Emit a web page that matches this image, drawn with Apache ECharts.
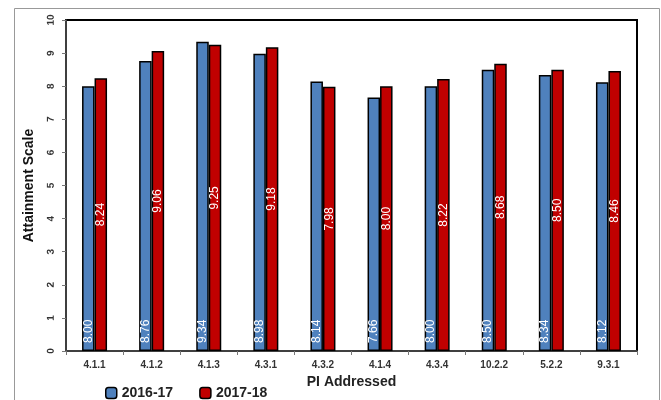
<!DOCTYPE html>
<html>
<head>
<meta charset="utf-8">
<script src="https://cdn.jsdelivr.net/npm/echarts@6/dist/echarts.min.js"></script>
<style>
  html, body { margin: 0; padding: 0; background: #fff; }
  #chart { width: 661px; height: 400px; }
</style>
</head>
<body>
<div id="chart"></div>
<script>
// PI codes on the x axis
var categories = ['4.1.1', '4.1.2', '4.1.3', '4.3.1', '4.3.2', '4.1.4', '4.3.4', '10.2.2', '5.2.2', '9.3.1'];
var year1 = [8.00, 8.76, 9.34, 8.98, 8.14, 7.66, 8.00, 8.50, 8.34, 8.12];
var year2 = [8.24, 9.06, 9.25, 9.18, 7.98, 8.00, 8.22, 8.68, 8.50, 8.46];
var yTicks = [0, 1, 2, 3, 4, 5, 6, 7, 8, 9, 10];

var chart = echarts.init(document.getElementById('chart'));

var labelFont = '"Liberation Sans Narrow", "Liberation Sans", sans-serif';

var option = {
    animation: false,
    graphic: [{
        type: 'rect',
        shape: { x: 14.5, y: 8.5, width: 645, height: 420 },
        style: { fill: 'none', stroke: '#999', lineWidth: 1 },
        z: -1
    }],
    legend: {
        top: 386,
        left: 105,
        padding: 0,
        itemWidth: 11,
        itemHeight: 11,
        itemGap: 26,
        textStyle: { fontSize: 14, fontWeight: 'bold', color: '#222', fontFamily: 'Liberation Sans' },
        data: [
            { name: '2016-17', itemStyle: { borderColor: '#000', borderWidth: 1.5 } },
            { name: '2017-18', itemStyle: { borderColor: '#000', borderWidth: 1.5 } }
        ]
    },
    grid: {
        left: 66,
        right: 24,
        top: 20,
        bottom: 49,
        show: true,
        borderColor: '#000',
        borderWidth: 2
    },
    xAxis: {
        type: 'category',
        data: categories,
        name: 'PI Addressed',
        nameLocation: 'middle',
        nameGap: 23,
        nameTextStyle: { fontSize: 14, fontWeight: 'bold', color: '#222', fontFamily: 'Liberation Sans' },
        axisLine: { lineStyle: { color: '#555', width: 1.5 } },
        axisTick: { show: true, length: 4, lineStyle: { color: '#777' } },
        axisLabel: { fontSize: 10, fontWeight: 'bold', color: '#333', margin: 9, fontFamily: 'Liberation Sans' }
    },
    yAxis: {
        type: 'value',
        min: yTicks[0],
        max: yTicks[yTicks.length - 1],
        interval: 1,
        name: 'Attainment Scale',
        nameLocation: 'middle',
        nameGap: 30,
        nameTextStyle: { fontSize: 14, fontWeight: 'bold', color: '#111', fontFamily: 'Liberation Sans' },
        axisLine: { show: true, lineStyle: { color: '#555', width: 1.5 } },
        axisTick: { show: true, length: 4, lineStyle: { color: '#777' } },
        splitLine: { show: false },
        axisLabel: {
            rotate: 89.9,
            align: 'center',
            verticalAlign: 'bottom',
            fontSize: 10,
            fontWeight: 'bold',
            color: '#333',
            margin: 10,
            fontFamily: 'Liberation Sans'
        }
    },
    series: [{
        name: '2016-17',
        type: 'bar',
        data: year1,
        barWidth: 12.5,
        barGap: '0%',
        itemStyle: { color: '#4F81BD', borderColor: '#000', borderWidth: 1.5 },
        label: {
            show: true,
            position: 'insideBottom',
            rotate: 90,
            distance: 8,
            align: 'left',
            verticalAlign: 'middle',
            color: '#fff',
            fontSize: 12,
            fontFamily: labelFont,
            formatter: function(p) { return p.value.toFixed(2); }
        }
    }, {
        name: '2017-18',
        type: 'bar',
        data: year2,
        barWidth: 12.5,
        barGap: '0%',
        itemStyle: { color: '#C00000', borderColor: '#000', borderWidth: 1.5 },
        label: {
            show: true,
            position: 'inside',
            rotate: 90,
            color: '#fff',
            fontSize: 12,
            fontFamily: labelFont,
            formatter: function(p) { return p.value.toFixed(2); }
        }
    }]
};

chart.setOption(option);
</script>
</body>
</html>
